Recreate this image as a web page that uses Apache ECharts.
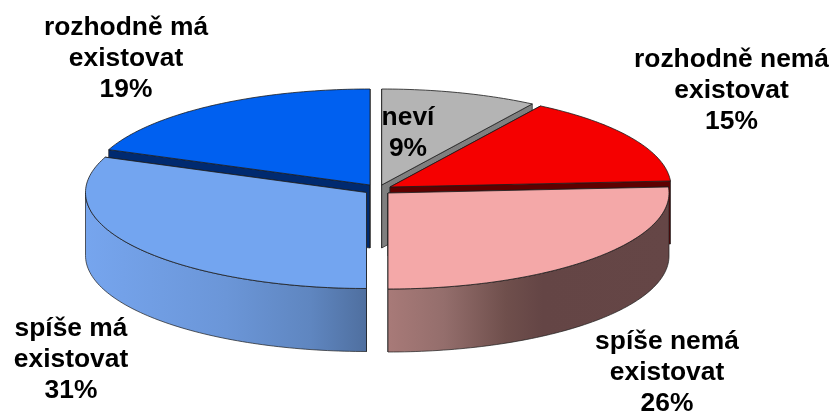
<!DOCTYPE html>
<html><head><meta charset="utf-8">
<style>html,body{margin:0;padding:0;background:#fff}#c{width:830px;height:412px}</style>
<script src="https://cdn.jsdelivr.net/npm/echarts@6/dist/echarts.min.js"></script>
</head><body><div id="c"></div>
<script>
// Data, clockwise from 12 o'clock
const categories = ['neví', 'rozhodně nemá\nexistovat', 'spíše nemá\nexistovat', 'spíše má\nexistovat', 'rozhodně má\nexistovat'];
const values = [9, 15, 26, 31, 19];

// Styling and layout
const topColors = ['#b4b4b4', '#f50000', '#f4a8a8', '#73a5f0', '#0060f0'];
const cutColors = ['#7f7f7f', '#5e0000', '#6a4a4a', '#4f6f9f', '#002a70'];
const wallStops = [
  [[0, '#7f7f7f'], [1, '#7f7f7f']],
  [[0, '#5e0000'], [1, '#5e0000']],
  [[0, '#a87a78'], [0.2, '#946e6c'], [0.42, '#6f4f4c'], [0.55, '#644545'], [1, '#654646']],
  [[0, '#76a5ee'], [0.5, '#6b96d8'], [0.8, '#5f86c0'], [1, '#4f6f9f']],
  [[0, '#002a70'], [1, '#002a70']]
];
const centers = [[381.7, 185], [390, 187], [388, 193], [366.5, 192.5], [370, 185]];
const rx = 281, ry = 96, depth = 63;
const labelAt = [[408, 133.5], [731.5, 91], [667, 373], [71, 360], [126, 58.5]];
const paintOrder = [0, 1, 2, 4, 3];

const total = values.reduce((a, b) => a + b, 0);
const starts = [];
values.reduce((acc, v, i) => { starts[i] = acc; return acc + v; }, 0);

function pt(c, t, dy) {
  return [c[0] + rx * Math.sin(t), c[1] - ry * Math.cos(t) + (dy || 0)];
}
function arc(c, a, b, dy) {
  const n = Math.max(2, Math.ceil(Math.abs(b - a) / 0.02)), out = [];
  for (let k = 0; k <= n; k++) out.push(pt(c, a + (b - a) * k / n, dy));
  return out;
}
const line = '#1c1c1c';

function renderItem(params, api) {
  const i = api.value(0);
  const a = starts[i] / total * 2 * Math.PI;
  const b = (starts[i] + values[i]) / total * 2 * Math.PI;
  const c = centers[i];
  const kids = [];
  const poly = (points, fill, w) => kids.push({
    type: 'polygon', shape: { points },
    style: { fill, stroke: line, lineWidth: w, lineJoin: 'round' }
  });
  // Cut faces
  [a, b].forEach(t => {
    const e = pt(c, t), e2 = pt(c, t, depth);
    poly([c, e, e2, [c[0], c[1] + depth]], cutColors[i], 0.7);
  });
  // Outer wall: only the part facing the viewer
  const lo = Math.max(a, Math.PI / 2), hi = Math.min(b, Math.PI * 1.5);
  if (hi > lo) {
    poly(arc(c, lo, hi, 0).concat(arc(c, hi, lo, depth)), {
      type: 'linear', x: 0, y: 0, x2: 1, y2: 0,
      colorStops: wallStops[i].map(s => ({ offset: s[0], color: s[1] }))
    }, 0.7);
  }
  // Top face
  poly([c].concat(arc(c, a, b, 0)), topColors[i], 0.8);
  return { type: 'group', children: kids };
}

function labelItem(params, api) {
  const i = api.value(0);
  return {
    type: 'text',
    x: labelAt[i][0], y: labelAt[i][1],
    style: {
      text: categories[i] + '\n' + values[i] + '%',
      font: 'bold 26.4px "Liberation Sans", Arial, sans-serif',
      fill: '#000', align: 'center', verticalAlign: 'middle', lineHeight: 31
    }
  };
}

const chart = echarts.init(document.getElementById('c'), null, { renderer: 'canvas' });
chart.setOption({
  backgroundColor: '#fff',
  animation: false,
  series: [
    { type: 'custom', coordinateSystem: 'none', renderItem, data: paintOrder.map(i => [i]), z: 2, silent: true },
    { type: 'custom', coordinateSystem: 'none', renderItem: labelItem, data: values.map((v, i) => [i]), z: 3, silent: true }
  ]
});
</script></body></html>
